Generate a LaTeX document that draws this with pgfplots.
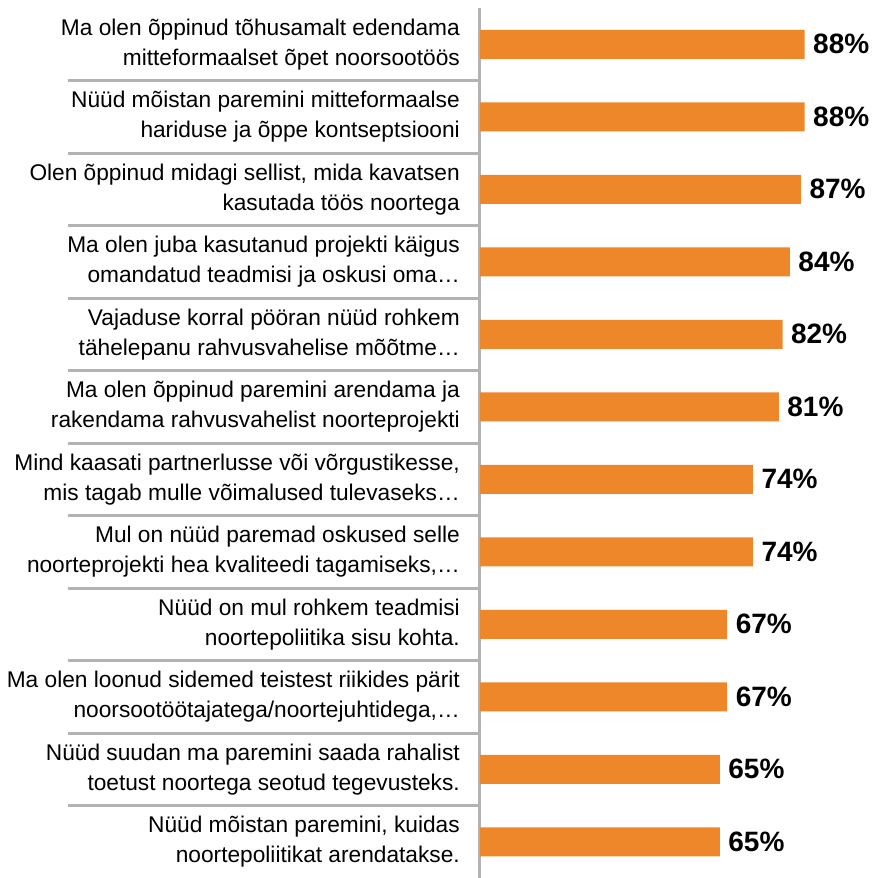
\documentclass[border=0pt]{standalone}
\usepackage{pgfplots}
\pgfplotsset{compat=1.18}
\usepackage{fontspec}
\setmainfont{Liberation Sans}
\definecolor{barorange}{HTML}{ED872A}
\definecolor{sepgray}{HTML}{B3B3B3}
\begin{document}
\begin{tikzpicture}
\begin{axis}[
  scale only axis,
  width=369pt, height=870pt,
  xbar, bar width=29pt,
  xmin=0, xmax=100,
  ymin=-0.5, ymax=11.5,
  y dir=reverse,
  axis x line=none,
  axis y line=left,
  axis line style={-, sepgray, line width=3pt},
  ytick={0,...,11},
  major tick length=0pt,
  yticklabels={
    {Ma olen õppinud tõhusamalt edendama\\mitteformaalset õpet noorsootöös},
    {Nüüd mõistan paremini mitteformaalse\\hariduse ja õppe kontseptsiooni},
    {Olen õppinud midagi sellist, mida kavatsen\\kasutada töös noortega},
    {Ma olen juba kasutanud projekti käigus\\omandatud teadmisi ja oskusi oma…},
    {Vajaduse korral pööran nüüd rohkem\\tähelepanu rahvusvahelise mõõtme…},
    {Ma olen õppinud paremini arendama ja\\rakendama rahvusvahelist noorteprojekti},
    {Mind kaasati partnerlusse või võrgustikesse,\\mis tagab mulle võimalused tulevaseks…},
    {Mul on nüüd paremad oskused selle\\noorteprojekti hea kvaliteedi tagamiseks,…},
    {Nüüd on mul rohkem teadmisi\ \\noortepoliitika sisu kohta.},
    {Ma olen loonud sidemed teistest riikides pärit\\noorsootöötajatega/noortejuhtidega,…},
    {Nüüd suudan ma paremini saada rahalist\\toetust noortega seotud tegevusteks.},
    {Nüüd mõistan paremini, kuidas\\noortepoliitikat arendatakse.}
  },
  yticklabel style={align=right, inner sep=0pt, xshift=-20pt,
    font=\fontsize{22.7}{30}\selectfont},
  extra y ticks={0.5,1.5,...,10.5},
  extra y tick labels={},
  extra y tick style={major tick length=412pt, tick align=outside,
    tick style={sepgray, line width=3pt}},
  nodes near coords={\pgfmathprintnumber{\pgfplotspointmeta}\%},
  nodes near coords style={font=\bfseries\fontsize{28}{28}\selectfont,
    /pgf/number format/assume math mode=true, anchor=west, xshift=5pt},
  point meta=x,
  clip=false,
]
\addplot[fill=barorange, draw=none] coordinates {
  (88,0) (88,1) (87,2) (84,3) (82,4) (81,5) (74,6) (74,7) (67,8) (67,9) (65,10) (65,11)
};
\end{axis}
\pgfresetboundingbox
\path[use as bounding box] (-480pt,0pt) rectangle (397pt,878pt);
\end{tikzpicture}
\end{document}
